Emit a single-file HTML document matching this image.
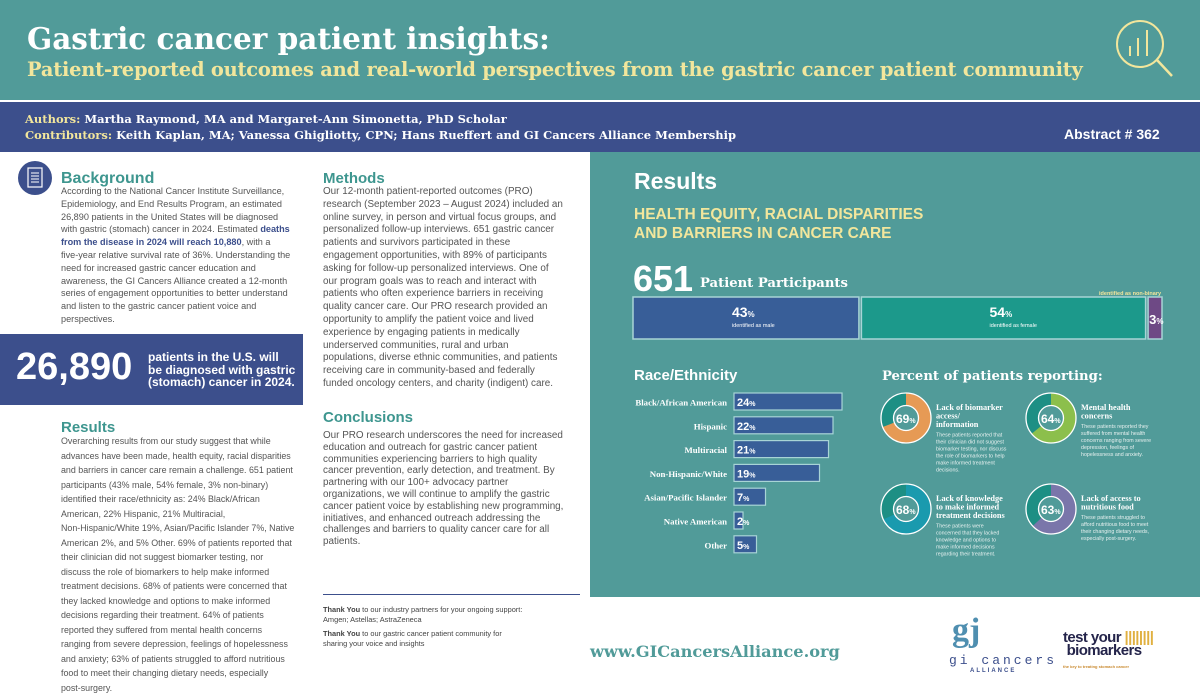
<!DOCTYPE html>
<html><head><meta charset="utf-8">
<style>
*{margin:0;padding:0;box-sizing:border-box}
body{width:1200px;height:700px;position:relative;overflow:hidden;background:#fff;font-family:"Liberation Sans",sans-serif}
.abs{position:absolute}
.slab{font-family:"DejaVu Serif","Liberation Serif",serif;font-weight:bold}
.body{color:#555;white-space:nowrap}
h2.sec{position:absolute;font-family:"Liberation Sans",sans-serif;font-weight:bold;font-size:16px;color:#3e968f}
</style></head><body>
<div class="abs" style="left:0;top:0;width:1200px;height:100px;background:#519b99"></div>
<div class="abs slab" style="left:27px;top:21px;font-size:29.5px;color:#fff;white-space:nowrap">Gastric cancer patient insights:</div>
<div class="abs slab" style="left:27px;top:58px;font-size:19.4px;color:#f2e69c;white-space:nowrap;letter-spacing:-0.2px">Patient-reported outcomes and real-world perspectives from the gastric cancer patient community</div>
<svg class="abs" style="left:1100px;top:10px" width="90" height="80">
<circle cx="40" cy="34" r="23" fill="none" stroke="#f2e69c" stroke-width="2"/>
<line x1="57" y1="50" x2="72" y2="66" stroke="#f2e69c" stroke-width="2.5"/>
<line x1="30" y1="46" x2="30" y2="36" stroke="#f2e69c" stroke-width="2"/>
<line x1="38" y1="46" x2="38" y2="28" stroke="#f2e69c" stroke-width="2"/>
<line x1="47" y1="46" x2="47" y2="20" stroke="#f2e69c" stroke-width="2"/>
</svg>
<div class="abs" style="left:0;top:102px;width:1200px;height:50px;background:#3c4f8c"></div>
<div class="abs slab" style="left:25px;top:112px;font-size:11.5px;color:#fff;white-space:nowrap"><span style="color:#f2e69c">Authors:</span> Martha Raymond, MA and Margaret-Ann Simonetta, PhD Scholar</div>
<div class="abs slab" style="left:25px;top:128px;font-size:11.5px;color:#fff;white-space:nowrap"><span style="color:#f2e69c">Contributors:</span> Keith Kaplan, MA; Vanessa Ghigliotty, CPN; Hans Rueffert and GI Cancers Alliance Membership</div>
<div class="abs" style="left:1064px;top:126px;font-size:14px;font-weight:bold;color:#fff;white-space:nowrap">Abstract # 362</div>

<!-- left column -->
<svg class="abs" style="left:17px;top:160px" width="36" height="36"><circle cx="18" cy="18" r="17" fill="#3c4f8c"/><rect x="11" y="8" width="14" height="19" fill="none" stroke="#fff" stroke-width="1.2"/><line x1="14" y1="13" x2="22" y2="13" stroke="#fff"/><line x1="14" y1="16" x2="22" y2="16" stroke="#fff"/><line x1="14" y1="19" x2="22" y2="19" stroke="#fff"/><line x1="14" y1="22" x2="22" y2="22" stroke="#fff"/></svg>
<h2 class="sec" style="left:61px;top:170px">Background</h2>
<div class="abs body" style="left:61px;top:185px;font-size:9.15px;line-height:12.8px">According to the National Cancer Institute Surveillance,<br>Epidemiology, and End Results Program, an estimated<br>26,890 patients in the United States will be diagnosed<br>with gastric (stomach) cancer in 2024. Estimated <b style="color:#3c4f8c">deaths</b><br><b style="color:#3c4f8c">from the disease in 2024 will reach 10,880</b>, with a<br>five-year relative survival rate of 36%. Understanding the<br>need for increased gastric cancer education and<br>awareness, the GI Cancers Alliance created a 12-month<br>series of engagement opportunities to better understand<br>and listen to the gastric cancer patient voice and<br>perspectives.</div>
<div class="abs" style="left:0;top:334px;width:303px;height:71px;background:#3c4f8c"></div>
<div class="abs" style="left:16px;top:346px;font-size:38px;font-weight:bold;color:#fff">26,890</div>
<div class="abs" style="left:148px;top:351px;font-size:12px;line-height:12.5px;font-weight:bold;color:#fff;white-space:nowrap">patients in the U.S. will<br>be diagnosed with gastric<br>(stomach) cancer in 2024.</div>
<h2 class="sec" style="left:61px;top:419px;font-size:15px">Results</h2>
<div class="abs body" style="left:61px;top:434px;font-size:8.9px;line-height:14.5px">Overarching results from our study suggest that while<br>advances have been made, health equity, racial disparities<br>and barriers in cancer care remain a challenge. 651 patient<br>participants (43% male, 54% female, 3% non-binary)<br>identified their race/ethnicity as:  24% Black/African<br>American, 22% Hispanic, 21% Multiracial,<br>Non-Hispanic/White 19%, Asian/Pacific Islander 7%, Native<br>American 2%, and 5% Other. 69% of patients reported that<br>their clinician did not suggest biomarker testing, nor<br>discuss the role of biomarkers to help make informed<br>treatment decisions. 68% of patients were concerned that<br>they lacked knowledge and options to make informed<br>decisions regarding their treatment. 64% of patients<br>reported they suffered from mental health concerns<br>ranging from severe depression, feelings of hopelessness<br>and anxiety; 63% of patients struggled to afford nutritious<br>food to meet their changing dietary needs, especially<br>post-surgery.</div>

<!-- middle column -->
<h2 class="sec" style="left:323px;top:170px;font-size:15px">Methods</h2>
<div class="abs body" style="left:323px;top:186px;font-size:9.9px;line-height:12.8px">Our 12-month patient-reported outcomes (PRO)<br>research (September 2023 – August 2024) included an<br>online survey, in person and virtual focus groups, and<br>personalized follow-up interviews. 651 gastric cancer<br>patients and survivors participated in these<br>engagement opportunities, with 89% of participants<br>asking for follow-up personalized interviews. One of<br>our program goals was to reach and interact with<br>patients who often experience barriers in receiving<br>quality cancer care. Our PRO research provided an<br>opportunity to amplify the patient voice and lived<br>experience by engaging patients in medically<br>underserved communities, rural and urban<br>populations, diverse ethnic communities, and patients<br>receiving care in community-based and federally<br>funded oncology centers, and charity (indigent) care.</div>
<h2 class="sec" style="left:323px;top:409px;font-size:15px">Conclusions</h2>
<div class="abs body" style="left:323px;top:430px;font-size:9.9px;line-height:11.8px">Our PRO research underscores the need for increased<br>education and outreach for gastric cancer patient<br>communities experiencing barriers to high quality<br>cancer prevention, early detection, and treatment. By<br>partnering with our 100+ advocacy partner<br>organizations, we will continue to amplify the gastric<br>cancer patient voice by establishing new programming,<br>initiatives, and enhanced outreach addressing the<br>challenges and barriers to quality cancer care for all<br>patients.</div>
<div class="abs" style="left:323px;top:594px;width:257px;height:1px;background:#3c4f8c"></div>
<div class="abs" style="left:323px;top:605px;font-size:7.4px;line-height:10px;color:#444;white-space:nowrap"><b>Thank You</b> to our industry partners for your ongoing support:<br>Amgen; Astellas; AstraZeneca<br><div style="height:4px"></div><b>Thank You</b> to our gastric cancer patient community for<br>sharing your voice and insights</div>

<!-- right panel -->
<div class="abs" style="left:590px;top:152px;width:610px;height:445px;background:#519b99"></div>
<div class="abs" style="left:634px;top:168px;font-size:23px;font-weight:bold;color:#fff">Results</div>
<div class="abs" style="left:634px;top:205px;font-size:15.5px;line-height:19px;font-weight:bold;color:#f2e69c;white-space:nowrap">HEALTH EQUITY, RACIAL DISPARITIES<br>AND BARRIERS IN CANCER CARE</div>
<div class="abs" style="left:633px;top:258px;font-size:36px;font-weight:bold;color:#fff">651</div>
<div class="abs slab" style="left:700px;top:276px;font-size:13.2px;color:#fff;white-space:nowrap">Patient Participants</div>
<div class="abs" style="left:1099px;top:291px;font-size:5.5px;font-weight:bold;color:#f2e69c">identified as non-binary</div>
<svg class="abs" id="gender" style="left:630px;top:295px" width="540" height="48"></svg>
<div class="abs" style="left:634px;top:367px;font-size:15px;font-weight:bold;color:#fff">Race/Ethnicity</div>
<svg class="abs" id="race" style="left:600px;top:385px" width="270" height="175"></svg>
<div class="abs slab" style="left:882px;top:369px;font-size:13.2px;color:#fff;white-space:nowrap">Percent of patients reporting:</div>
<svg class="abs" id="donuts" style="left:860px;top:380px" width="340" height="200"></svg>

<div class="abs" style="left:590px;top:642px;font-size:16.2px;color:#519b99;font-family:'DejaVu Serif',serif;font-weight:bold;white-space:nowrap">www.GICancersAlliance.org</div>
<div class="abs" style="left:952px;top:612px;font-size:34px;font-weight:bold;color:#4f8fb0;font-family:'Liberation Serif',serif">gj</div>
<div class="abs" style="left:949px;top:653px;font-size:13px;letter-spacing:3px;color:#3c4f8c;font-family:'Liberation Mono',monospace">gi cancers</div>
<div class="abs" style="left:970px;top:668px;font-size:6px;letter-spacing:2px;color:#3c4f8c;font-weight:bold">ALLIANCE</div>
<div class="abs" style="left:1063px;top:631px;font-size:15px;line-height:13px;font-weight:bold;color:#24244a;letter-spacing:-0.6px;white-space:nowrap">test your <span style="color:#e0b040">||||||||</span><br>&nbsp;biomarkers<br><span style="font-size:4px;color:#c98a30;letter-spacing:0">the key to treating stomach cancer</span></div>

<script>
const NS="http://www.w3.org/2000/svg";
function mk(p,t,a){const e=document.createElementNS(NS,t);for(const k in a)e.setAttribute(k,a[k]);p.appendChild(e);return e;}

// gender bar
const genderLabels=["identified as male","identified as female",""];
const genderValues=[43,54,3];
const genderColors=["#385e98","#1c998b","#6e4985"];
const g=document.getElementById('gender');
const gScale=v=>v*5.3;
let gx=3;
genderValues.forEach((v,i)=>{
  const w=gScale(v)-2;
  const r=mk(g,'rect',{x:gx,y:2,width:w,height:42,fill:genderColors[i],stroke:'#a8d4d6','stroke-width':1.5});
  
  
  const cx=gx+w/2;
  const t=mk(g,'text',{x:i==2?gx+1:cx-14,y:i==2?29:22,fill:'#fff','font-size':i==2?13:14,'font-weight':'bold','font-family':'Liberation Sans'});
  t.textContent=v;
  const s=mk(t,'tspan',{'font-size':8});s.textContent='%';
  if(genderLabels[i]){const l=mk(g,'text',{x:cx-14,y:32,fill:'#fff','font-size':5.5,'font-family':'Liberation Sans'});l.textContent=genderLabels[i];}
  gx+=w+2.5;
});

// race bars
const raceCategories=["Black/African American","Hispanic","Multiracial","Non-Hispanic/White","Asian/Pacific Islander","Native American","Other"];
const raceValues=[24,22,21,19,7,2,5];
const rs=document.getElementById('race');
const xR=v=>v*4.5;
const yR=i=>8+i*23.8;
raceCategories.forEach((c,i)=>{
  const y=yR(i);
  const l=mk(rs,'text',{x:127,y:y+12.5,'text-anchor':'end',fill:'#fff','font-size':8.8,'font-weight':'bold','font-family':'Liberation Serif'});
  l.textContent=c;
  const r=mk(rs,'rect',{x:134,y:y,width:xR(raceValues[i]),height:17,fill:'#385e98',stroke:'#a8d4d6','stroke-width':1.2});
  
  
  const t=mk(rs,'text',{x:137,y:y+13,fill:'#fff','font-size':11,'font-weight':'bold','font-family':'Liberation Sans'});
  t.textContent=raceValues[i];
  const s=mk(t,'tspan',{'font-size':7});s.textContent='%';
});

// donuts
const donutValues=[69,64,68,63];
const donutTitles=[["Lack of biomarker","access/","information"],["Mental health","concerns"],["Lack of knowledge","to make informed","treatment decisions"],["Lack of access to","nutritious food"]];
const donutDescs=[["These patients reported that","their clinician did not suggest","biomarker testing, nor discuss","the role of biomarkers to help","make informed treatment","decisions."],["These patients reported they","suffered from mental health","concerns ranging from severe","depression, feelings of","hopelessness and anxiety."],["These patients were","concerned that they lacked","knowledge and options to","make informed decisions","regarding their treatment."],["These patients struggled to","afford nutritious food to meet","their changing dietary needs,","especially post-surgery."]];
const donutColors=["#e69a55","#8cbf4c","#1a9aae","#7a76aa"];
const dv=document.getElementById('donuts');
const pos=[[46,38],[191,38],[46,129],[191,129]];
donutValues.forEach((v,i)=>{
  const [cx,cy]=pos[i];const R=25,r=12.5,mR=(R+r)/2,sw=R-r;
  mk(dv,'circle',{cx,cy,r:mR,fill:'none',stroke:'#1d8f84','stroke-width':sw});
  const C=2*Math.PI*mR;
  const arc=mk(dv,'circle',{cx,cy,r:mR,fill:'none',stroke:donutColors[i],'stroke-width':sw,'stroke-dasharray':(C*v/100)+' '+C,transform:`rotate(-90 ${cx} ${cy})`});
  
  
  mk(dv,'circle',{cx,cy,r:R,fill:'none',stroke:'#fff','stroke-width':1.3});
  mk(dv,'circle',{cx,cy,r:r,fill:'none',stroke:'#fff','stroke-width':1.3});
  const t=mk(dv,'text',{x:cx-10,y:cy+5,fill:'#fff','font-size':12,'font-weight':'bold','font-family':'Liberation Sans'});
  t.textContent=v;const s=mk(t,'tspan',{'font-size':7});s.textContent='%';
  const tx=cx+30;let ty=cy-8;
  donutTitles[i].forEach(line=>{const e=mk(dv,'text',{x:tx,y:ty,fill:'#fff','font-size':8.3,'font-weight':'bold','font-family':'Liberation Serif'});e.textContent=line;ty+=8.5;});
  ty+=1;
  donutDescs[i].forEach(line=>{const e=mk(dv,'text',{x:tx,y:ty,fill:'#e6f0ef','font-size':5.3,'font-family':'Liberation Sans'});e.textContent=line;ty+=7;});
});
</script>
</body></html>
